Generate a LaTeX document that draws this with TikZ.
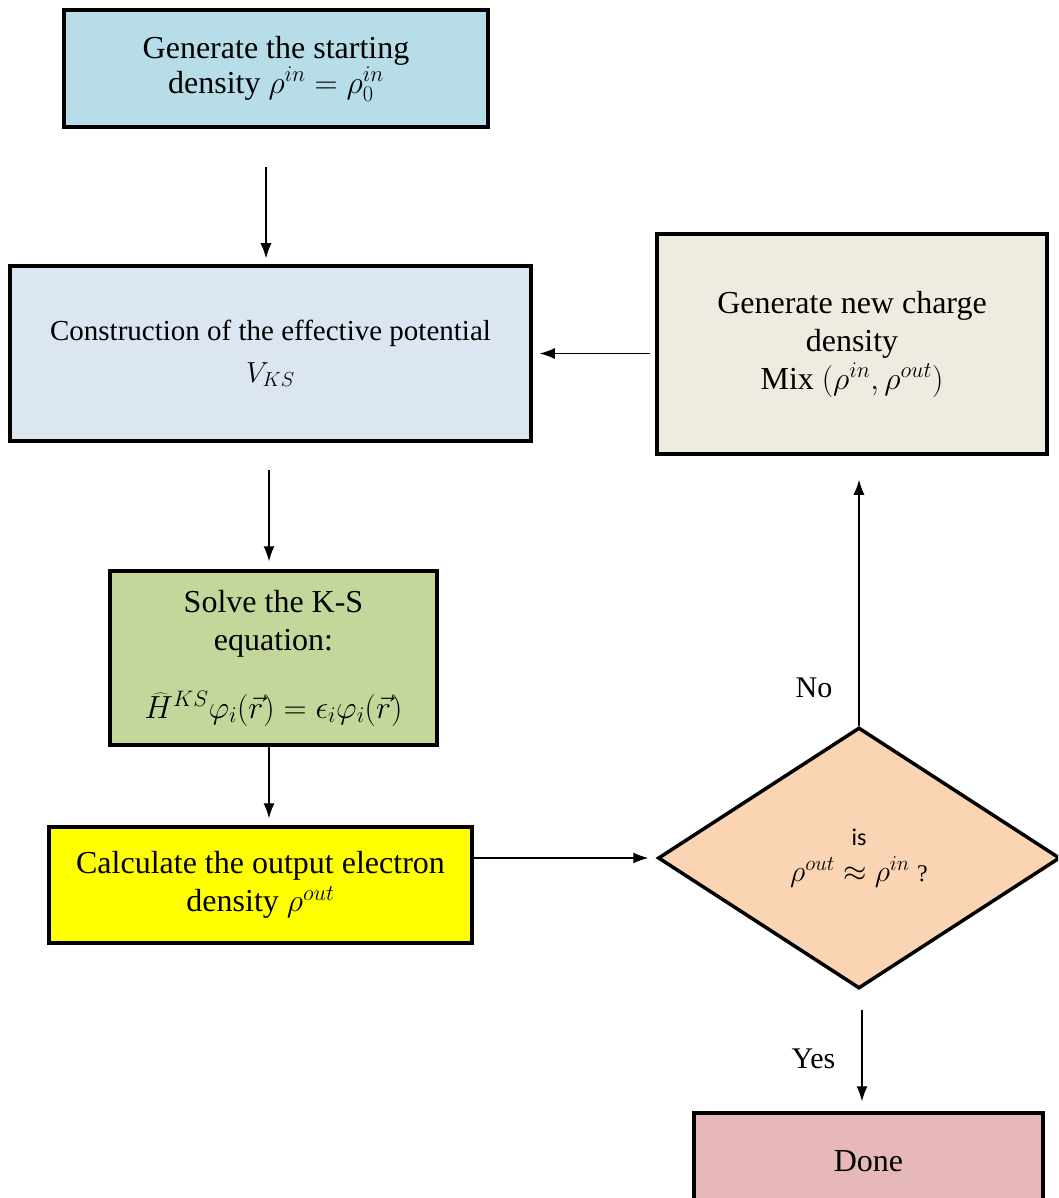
\RequirePackage{fix-cm}
\documentclass[tikz,border=0pt]{standalone}
\usepackage{fontspec}
\setmainfont{Liberation Serif}
\newfontfamily\calib{Carlito}
\usetikzlibrary{shapes.geometric,arrows.meta,calc}

\definecolor{cstart}{HTML}{B7DDE8}
\definecolor{cpot}{HTML}{DCE6F2}
\definecolor{csolve}{HTML}{C4D79B}
\definecolor{cout}{HTML}{FFFF00}
\definecolor{cmix}{HTML}{EEECE1}
\definecolor{ctest}{HTML}{FBD4B4}
\definecolor{cdone}{HTML}{E6B9B8}

\tikzset{
  box/.style={draw=black, line width=3.5pt, rectangle, inner sep=0pt,
    align=center, font=\fontsize{32}{38}\selectfont},
  arr/.style={line width=1.3pt, -{Latex[length=15pt,width=11pt]}},
  lbl/.style={font=\fontsize{30}{36}\selectfont, inner sep=0pt}
}

\begin{document}
\begin{tikzpicture}[x=1pt,y=-1pt]
\useasboundingbox (0,0) rectangle (1058,1198);
\clip (0,0) rectangle (1058,1198);

% process boxes
\node[box, fill=cstart, minimum width=424pt, minimum height=117pt] (b1) at (276,68.5)
  {\raisebox{-3pt}{Generate the starting}\\ density $\rho^{in}=\rho_0^{in}$};
\node[box, fill=cpot, minimum width=521pt, minimum height=175pt,
      font=\fontsize{29}{42}\selectfont] (b2) at (270.5,353.5)
  {Construction of the effective potential\\ $V_{KS}$};
\node[box, fill=csolve, minimum width=327pt, minimum height=174pt] (b3) at (273.5,658)
  {Solve the K-S\\ equation:\\[30pt]
   $\widehat{H}^{KS}\varphi_i(\vec{r})=\epsilon_i\varphi_i(\vec{r})$};
\node[box, fill=cout, minimum width=423pt, minimum height=116pt] (b4) at (260.5,885)
  {Calculate the output electron\\ density $\rho^{out}$};
\node[box, fill=cmix, minimum width=390pt, minimum height=220pt] (b5) at (852,344)
  {Generate new charge\\ density\\ Mix $(\rho^{in},\rho^{out})$};
\node[box, fill=cdone, minimum width=349pt, minimum height=96pt] (done) at (868.5,1161)
  {Done};

% convergence test
\node[diamond, draw=black, line width=3.5pt, fill=ctest, inner sep=0pt,
      minimum width=402pt, minimum height=261pt, align=center,
      font=\fontsize{30}{36}\selectfont] (dia) at (859,858)
  {{\calib\fontsize{24}{28}\selectfont is}\\ $\rho^{out}\approx\rho^{in}$ {\fontsize{24}{28}\selectfont ?}};

% connectors
\draw[arr, shorten <=38pt, shorten >=6pt]
  ([xshift=-10pt]b1.south) -- ([xshift=-4.5pt]b2.north);
\draw[arr, shorten <=27pt, shorten >=8pt]
  ([xshift=-1.5pt]b2.south) -- ([xshift=-4.5pt]b3.north |- b3.north);
\draw[arr, shorten >=7pt]
  ([xshift=-4.5pt]b3.south) -- ([xshift=-4.5pt]b3.south |- b4.north);
\draw[arr, shorten >=8pt] (b4.east |- dia.west) -- (dia.west);
\draw[arr, shorten >=24pt] (dia.north) -- (dia.north |- b5.south)
  node[lbl, pos=0.14, left=26pt] (no) {No};
\draw[arr, shorten <=5pt, shorten >=7pt] (b5.west |- b2.east) -- (b2.east);
\draw[arr, shorten <=20pt, shorten >=10pt] ([xshift=3pt]dia.south) -- ([xshift=3pt]dia.south |- done.north)
  node[lbl, midway, left=26pt, yshift=-8pt] (yes) {Yes};
\end{tikzpicture}
\end{document}
